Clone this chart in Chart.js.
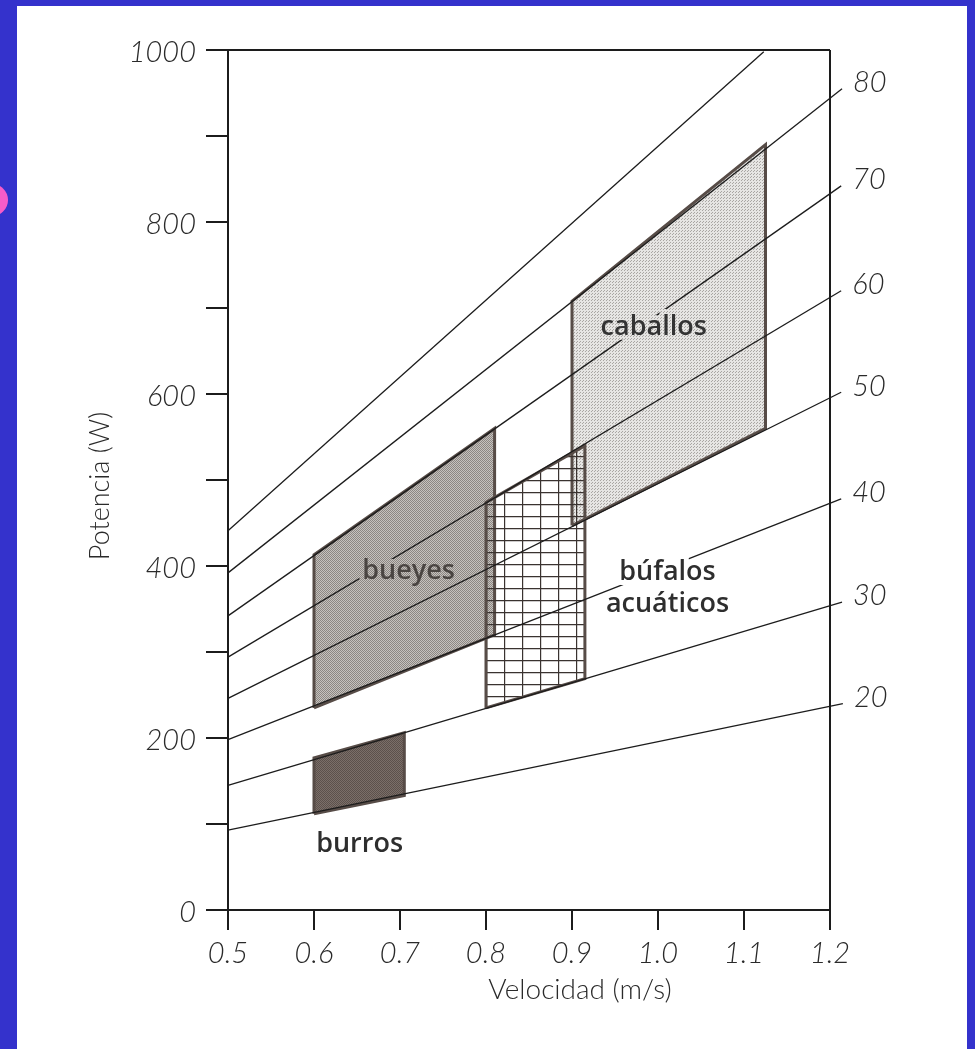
<!DOCTYPE html>
<html>
<head>
<meta charset="utf-8">
<script src="https://cdn.jsdelivr.net/npm/chart.js@4.4.1/dist/chart.umd.min.js"></script>
<style>
  html, body { margin: 0; padding: 0; }
  body { width: 975px; height: 1049px; background: #3432cc; position: relative; overflow: hidden; }
  #page { position: absolute; left: 17px; top: 6px; width: 950px; height: 1043px; background: #fff; }
  #dot { position: absolute; left: -24px; top: 184px; width: 32px; height: 32px; border-radius: 50%; background: #f65cc9; }
  #chart { position: absolute; left: 0; top: 0; }
</style>
</head>
<body>
<div id="page"></div>
<div id="dot"></div>
<canvas id="chart" width="975" height="1049"></canvas>
<script>
// Draft-force lines (kgf), each read as a start and end point
const forceLabels = ['20', '30', '40', '50', '60', '70', '80', ''];
const lineStartV = [0.5, 0.5, 0.5, 0.5, 0.5, 0.5, 0.5, 0.5];
const lineStartP = [93, 145, 198, 246, 294, 342, 392, 441];
const lineEndV = [1.215, 1.214, 1.213, 1.213, 1.213, 1.213, 1.214, 1.123];
const lineEndP = [240, 358, 478, 602, 720, 842, 955, 998];

// Animal working zones (corners: velocity, power)
const burrosV = [0.60, 0.705, 0.705, 0.60, 0.60];
const burrosP = [112, 133, 206, 177, 112];
const bueyesV = [0.60, 0.81, 0.81, 0.60, 0.60];
const bueyesP = [235, 320, 560, 413, 235];
const bufalosV = [0.80, 0.915, 0.915, 0.80, 0.80];
const bufalosP = [235, 269, 540, 474, 235];
const caballosV = [0.90, 1.125, 1.125, 0.90, 0.90];
const caballosP = [447, 560, 890, 708, 447];

// Tick labels
const xTickLabels = ['0.5', '0.6', '0.7', '0.8', '0.9', '1.0', '1.1', '1.2'];
const yTickLabels = ['0', '', '200', '', '400', '', '600', '', '800', '', '1000'];

const ink = '#1c1c1c';
const edge = '#574c47';

function toPoints(xs, ys) {
    return xs.map((x, i) => ({ x: x, y: ys[i] }));
}

// checker stipple like the scanned screen tones
function stipple(light, dark) {
    const c = document.createElement('canvas');
    c.width = 2;
    c.height = 2;
    const g = c.getContext('2d');
    g.fillStyle = light;
    g.fillRect(0, 0, 2, 2);
    g.fillStyle = dark;
    g.fillRect(0, 0, 1, 1);
    g.fillRect(1, 1, 1, 1);
    return g.createPattern(c, 'repeat');
}

// sparse dots for the light tone
function sparseDots(light, dark) {
    const c = document.createElement('canvas');
    c.width = 3;
    c.height = 3;
    const g = c.getContext('2d');
    g.fillStyle = light;
    g.fillRect(0, 0, 3, 3);
    g.fillStyle = dark;
    g.fillRect(0, 0, 1, 1);
    g.fillRect(1, 2, 1, 1);
    return g.createPattern(c, 'repeat');
}

function gridHatch() {
    const c = document.createElement('canvas');
    c.width = 18;
    c.height = 12;
    const g = c.getContext('2d');
    g.strokeStyle = '#3a3330';
    g.lineWidth = 1.4;
    g.beginPath();
    g.moveTo(0.5, 0); g.lineTo(0.5, 12);
    g.moveTo(0, 0.5); g.lineTo(18, 0.5);
    g.stroke();
    return g.createPattern(c, 'repeat');
}

const ctx = document.getElementById('chart').getContext('2d');
const caballosFill = sparseDots('#e6e5e3', '#a9a6a3');
const bueyesFill = stipple('#c6c2be', '#8c8783');
const burrosFill = stipple('#7b6f69', '#5c514c');
const bufalosFill = gridHatch();

const datasets = [];

// force lines drawn on top
forceLabels.forEach((lab, i) => {
    datasets.push({
        label: 'F' + (lab || '90'),
        data: toPoints([lineStartV[i], lineEndV[i]], [lineStartP[i], lineEndP[i]]),
        borderColor: ink,
        borderWidth: 1.3,
        pointRadius: 0,
        fill: false,
        clip: false,
        order: 0,
        forceLabel: lab
    });
});

const zones = [
    { name: 'bufalos', v: bufalosV, p: bufalosP, fill: bufalosFill, order: 1 },
    { name: 'caballos', v: caballosV, p: caballosP, fill: caballosFill, order: 2 },
    { name: 'bueyes', v: bueyesV, p: bueyesP, fill: bueyesFill, order: 2 },
    { name: 'burros', v: burrosV, p: burrosP, fill: burrosFill, order: 2 }
];
zones.forEach(z => {
    datasets.push({
        label: z.name,
        data: toPoints(z.v, z.p),
        borderColor: edge,
        borderWidth: 3,
        borderJoinStyle: 'miter',
        backgroundColor: z.fill,
        pointRadius: 0,
        tension: 0,
        fill: 'shape',
        order: z.order
    });
});

// text labels placed in data units
const zoneLabels = [
    { text: 'caballos', v: 0.995, p: 678, halo: caballosFill, color: '#333' },
    { text: 'bueyes', v: 0.71, p: 394, halo: bueyesFill, color: '#4a4542' },
    { text: 'búfalos', v: 1.011, p: 393, halo: '#fff', color: '#2e2e2e' },
    { text: 'acuáticos', v: 1.011, p: 356, halo: '#fff', color: '#2e2e2e' },
    { text: 'burros', v: 0.653, p: 76, halo: '#fff', color: '#2e2e2e' }
];

const tickFont = { family: 'Lato', size: 29, style: 'italic', weight: '300' };

const sketchText = {
    id: 'sketchText',
    afterDatasetsDraw(chart) {
        const c = chart.ctx;
        const xs = chart.scales.x;
        const ys = chart.scales.y;
        c.save();

        // zone names with a halo that knocks the lines out
        c.font = '600 27px "Open Sans", "DejaVu Sans", sans-serif';
        c.textAlign = 'center';
        c.textBaseline = 'middle';
        c.lineJoin = 'round';
        zoneLabels.forEach(l => {
            const px = xs.getPixelForValue(l.v);
            const py = ys.getPixelForValue(l.p);
            c.lineWidth = 10;
            c.strokeStyle = l.halo;
            c.strokeText(l.text, px, py);
            c.fillStyle = l.color;
            c.fillText(l.text, px, py);
        });

        // force values at the end of each line
        c.font = 'italic 300 29px Lato, sans-serif';
        c.textAlign = 'left';
        c.fillStyle = '#2a2a2a';
        chart.data.datasets.forEach(ds => {
            if (!ds.forceLabel) return;
            const last = ds.data[ds.data.length - 1];
            c.fillText(ds.forceLabel, xs.getPixelForValue(last.x) + 11, ys.getPixelForValue(last.y) - 6);
        });

        // axis titles
        c.font = '300 28px Lato, sans-serif';
        c.textAlign = 'center';
        c.fillText('Velocidad (m/s)', 580, 990);
        c.font = '300 27px Lato, sans-serif';
        c.translate(100, 486);
        c.rotate(-Math.PI / 2);
        c.fillText('Potencia (W)', 0, 0);
        c.restore();
    }
};

new Chart(ctx, {
    type: 'line',
    data: { datasets: datasets },
    options: {
        responsive: false,
        animation: false,
        events: [],
        layout: { padding: { left: 30, right: 145, top: 50, bottom: 29 } },
        plugins: {
            legend: { display: false },
            tooltip: { enabled: false }
        },
        scales: {
            x: {
                type: 'linear',
                min: 0.5,
                max: 1.2,
                afterFit: s => { s.height = 110; },
                border: { display: true, color: ink, width: 2 },
                grid: {
                    drawOnChartArea: true,
                    color: c => Math.abs(c.tick.value - 1.2) < 1e-6 ? ink : 'rgba(0,0,0,0)',
                    lineWidth: 2,
                    tickColor: ink,
                    tickLength: 20,
                    tickWidth: 2
                },
                ticks: {
                    stepSize: 0.1,
                    autoSkip: false,
                    maxRotation: 0,
                    padding: 6,
                    color: '#2a2a2a',
                    font: tickFont,
                    callback: (v, i) => xTickLabels[i]
                }
            },
            y: {
                type: 'linear',
                min: 0,
                max: 1000,
                afterFit: s => { s.width = 198; },
                border: { display: true, color: ink, width: 2 },
                grid: {
                    drawOnChartArea: true,
                    color: c => c.tick.value === 1000 ? ink : 'rgba(0,0,0,0)',
                    lineWidth: 2,
                    tickColor: ink,
                    tickLength: 22,
                    tickWidth: 2
                },
                ticks: {
                    stepSize: 100,
                    autoSkip: false,
                    padding: 10,
                    labelOffset: 3,
                    color: '#2a2a2a',
                    font: tickFont,
                    callback: (v, i) => yTickLabels[i]
                }
            }
        }
    },
    plugins: [sketchText]
});
</script>
</body>
</html>
